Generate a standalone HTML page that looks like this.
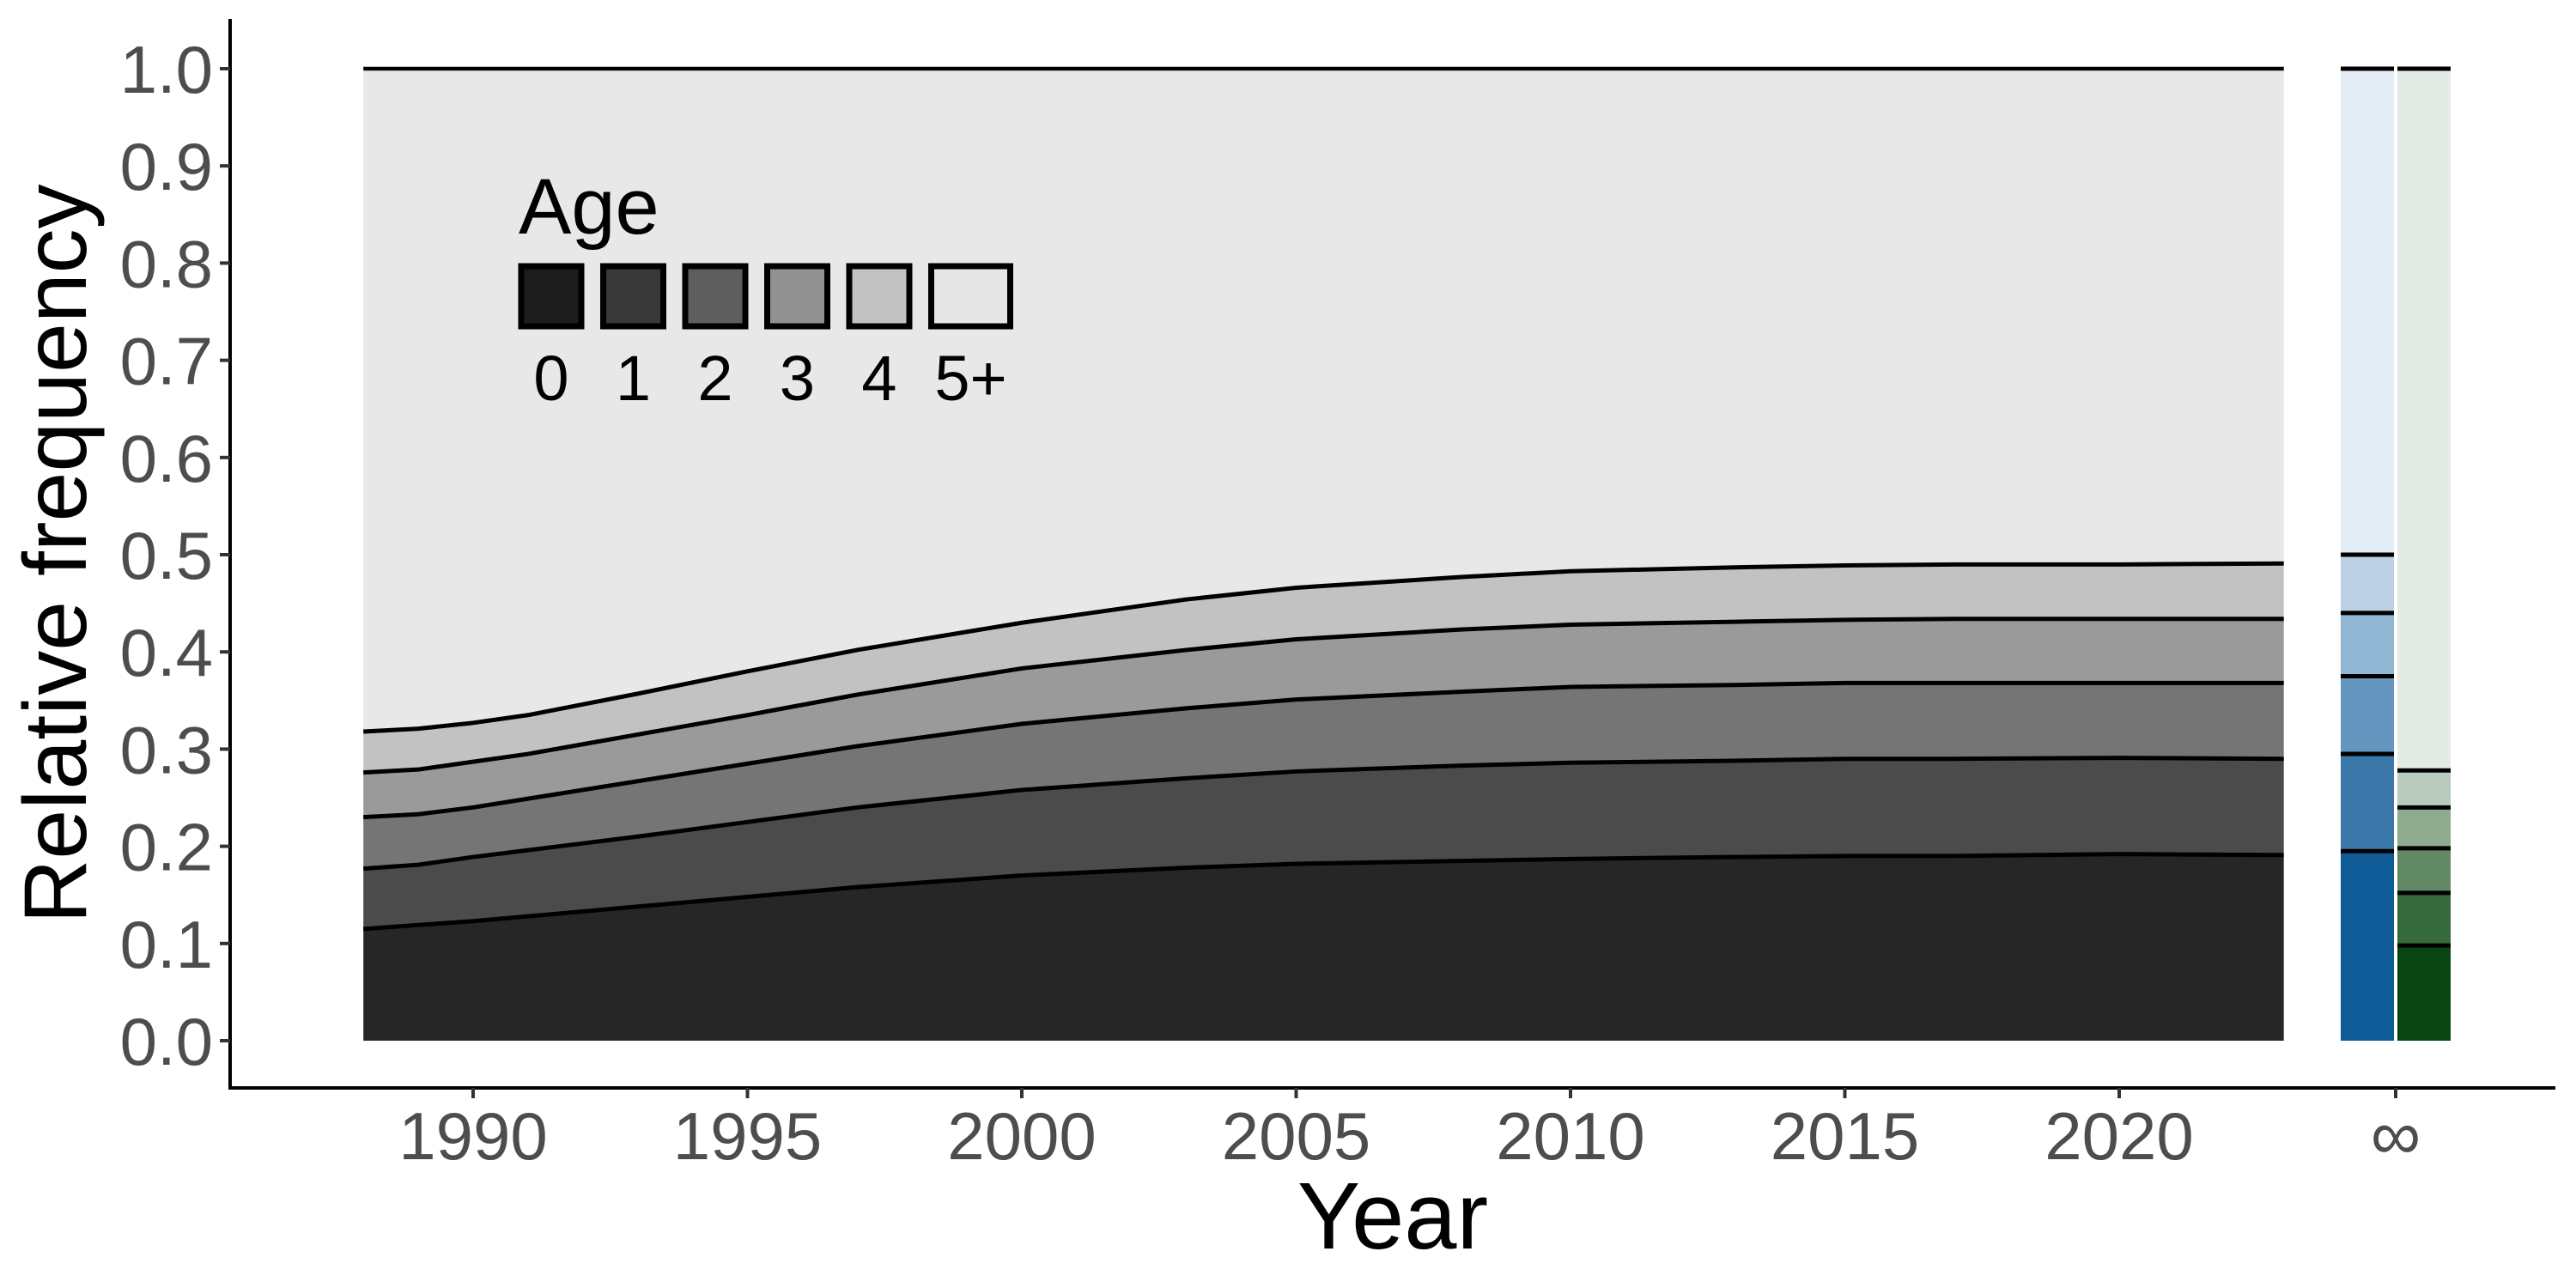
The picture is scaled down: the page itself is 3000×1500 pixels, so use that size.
<!DOCTYPE html>
<html><head><meta charset="utf-8">
<style>
html,body{margin:0;padding:0;background:#fff;}
svg{display:block;font-family:"Liberation Sans",Arial,sans-serif;}
</style></head>
<body>
<svg id="chart" width="3000" height="1500" viewBox="0 0 3000 1500" xmlns="http://www.w3.org/2000/svg">
<g id="areas"></g>
<g id="bars"></g>
<g id="axes"></g>
<g id="legend"></g>
</svg>
<script>
const years = [1988,1989,1990,1991,1992,1993,1995,1997,2000,2003,2005,2008,2010,2013,2015,2017,2020,2023];
const cum0 = [0.115,0.119,0.123,0.128,0.133,0.138,0.148,0.158,0.170,0.178,0.182,0.185,0.187,0.189,0.190,0.190,0.192,0.191];
const cum1 = [0.177,0.181,0.189,0.196,0.203,0.210,0.225,0.240,0.258,0.270,0.277,0.283,0.286,0.288,0.290,0.290,0.291,0.290];
const cum2 = [0.230,0.233,0.240,0.249,0.258,0.267,0.285,0.303,0.326,0.342,0.351,0.359,0.364,0.366,0.368,0.368,0.368,0.368];
const cum3 = [0.276,0.279,0.287,0.295,0.305,0.315,0.335,0.356,0.383,0.402,0.413,0.423,0.428,0.431,0.433,0.434,0.434,0.434];
const cum4 = [0.318,0.321,0.327,0.335,0.346,0.357,0.380,0.402,0.430,0.454,0.466,0.477,0.483,0.487,0.489,0.490,0.490,0.491];
const yTicks = [0,0.1,0.2,0.3,0.4,0.5,0.6,0.7,0.8,0.9,1.0];
const xTicks = [1990,1995,2000,2005,2010,2015,2020];
const blueCum = [0.195,0.295,0.375,0.44,0.5,1.0];
const greenCum = [0.098,0.152,0.198,0.24,0.278,1.0];
const ageLabels = ["0","1","2","3","4","5+"];

const NS="http://www.w3.org/2000/svg";
const X = y => 551 + (y-1990)*63.9;
const Y = v => 1212 - v*1132;
function mk(tag, attrs, parent){const e=document.createElementNS(NS,tag);for(const k in attrs)e.setAttribute(k,attrs[k]);parent.appendChild(e);return e;}

const grays=["#262626","#4b4b4b","#757575","#9a9a9a","#c2c2c2","#e8e8e8"];
const series=[years.map(()=>0),cum0,cum1,cum2,cum3,cum4,years.map(()=>1)];
const areas=document.getElementById('areas');
for(let i=0;i<6;i++){
  const lo=series[i], hi=series[i+1];
  let d="M"+years.map((y,j)=>X(y)+","+Y(hi[j])).join(" L");
  d+=" L"+years.slice().reverse().map((y,j)=>X(y)+","+Y(lo[lo.length-1-j])).join(" L")+" Z";
  const p=mk('path',{d:d,fill:grays[i]},areas);
  
  
}
for(let i=1;i<6;i++){
  const s=series[i];
  const l=mk('polyline',{points:years.map((y,j)=>X(y)+","+Y(s[j])).join(" "),fill:"none",stroke:"#000","stroke-width":5,"stroke-linejoin":"round"},areas);
  
  
}
const topLine=mk('line',{x1:X(1988),x2:X(2023),y1:Y(1),y2:Y(1),stroke:"#000","stroke-width":4.5},areas);



const bars=document.getElementById('bars');
const blues=["#0e5b97","#3b78a9","#6496bf","#91b6d3","#bcd2e4","#e4edf6"];
const greens=["#094511","#366a3c","#618a64","#8eab8f","#b9cbbc","#e4ebe6"];
function drawBar(cum, cols, x0, x1, name){
  let prev=0;
  for(let i=0;i<cum.length;i++){
    const r=mk('rect',{x:x0,y:Y(cum[i]),width:x1-x0,height:Y(prev)-Y(cum[i]),fill:cols[i]},bars);
    
    
    prev=cum[i];
  }
  for(let i=0;i<cum.length;i++){
    const l=mk('line',{x1:x0,x2:x1,y1:Y(cum[i]),y2:Y(cum[i]),stroke:"#000","stroke-width":5},bars);
    
    
  }
}
drawBar(blueCum,blues,2726,2788,'blue-bar');
drawBar(greenCum,greens,2792,2854,'green-bar');

const axes=document.getElementById('axes');
let e=mk('line',{x1:268,x2:268,y1:22,y2:1268,stroke:"#000","stroke-width":4},axes);

e=mk('line',{x1:266,x2:2976,y1:1267,y2:1267,stroke:"#000","stroke-width":4},axes);

yTicks.forEach(v=>{
  const t=mk('line',{x1:256,x2:268,y1:Y(v),y2:Y(v),stroke:"#333","stroke-width":4},axes);
  
  
  const tx=mk('text',{x:248,y:Y(v)+28,"text-anchor":"end","font-size":78,fill:"#4d4d4d"},axes);
  tx.textContent=v.toFixed(1);
  
  
});
xTicks.forEach(v=>{
  const t=mk('line',{x1:X(v),x2:X(v),y1:1267,y2:1279,stroke:"#333","stroke-width":4},axes);
  
  
  const tx=mk('text',{x:X(v),y:1350,"text-anchor":"middle","font-size":78,fill:"#4d4d4d"},axes);
  tx.textContent=v;
  
  
});
e=mk('line',{x1:2790,x2:2790,y1:1267,y2:1279,stroke:"#333","stroke-width":4},axes);

e=mk('text',{x:2790,y:1350,"text-anchor":"middle","font-size":82,fill:"#4d4d4d"},axes);
e.textContent="∞";

e=mk('text',{x:1622,y:1454,"text-anchor":"middle","font-size":110,fill:"#000"},axes);
e.textContent="Year";

e=mk('text',{x:0,y:0,"text-anchor":"middle","font-size":104,fill:"#000",transform:"translate(100,645) rotate(-90)"},axes);
e.textContent="Relative frequency";


const legend=document.getElementById('legend');
const keyCols=["#1c1c1c","#383838","#5e5e5e","#919191","#c2c2c2","#e6e6e6"];
e=mk('text',{x:604,y:272,"font-size":92,fill:"#000"},legend);
e.textContent="Age";

ageLabels.forEach((a,i)=>{
  const x=607+i*95.5;
  const w = i===5 ? 92 : 70;
  const r=mk('rect',{x:x,y:310,width:w,height:70,fill:keyCols[i],stroke:"#000","stroke-width":7},legend);
  
  
  const t=mk('text',{x:x+w/2,y:466,"text-anchor":"middle","font-size":74,fill:"#000"},legend);
  t.textContent=a;
  
  
});
</script>
</body></html>
